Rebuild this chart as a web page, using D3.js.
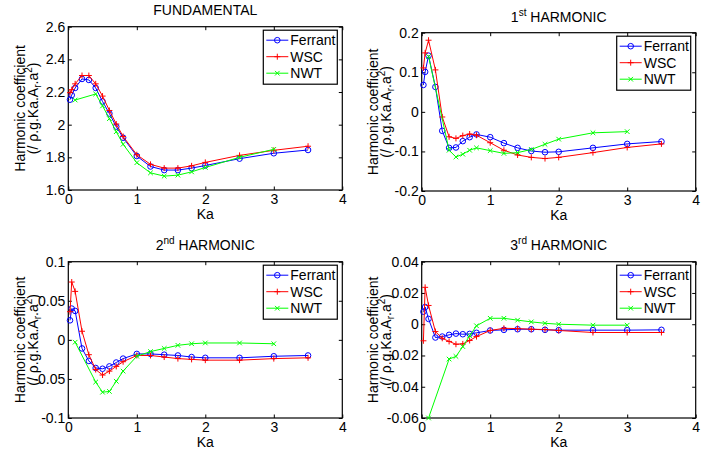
<!DOCTYPE html>
<html>
<head>
<meta charset="utf-8">
<script src="https://cdn.jsdelivr.net/npm/d3@7"></script>
<style>
body{margin:0;background:#fff;}
svg{display:block;}
text{font-family:"Liberation Sans",Arial,Helvetica,sans-serif;fill:#000;}
</style>
</head>
<body>
<svg id="chart" width="717" height="455"></svg>
<script>
// ---------- data ----------
const kaFull = [0.025,0.05,0.1,0.2,0.3,0.4,0.5,0.6,0.7,0.8,1.0,1.2,1.4,1.6,1.8,2.0,2.5,3.0,3.5];
const kaNWT  = [0.1,0.4,0.5,0.6,0.7,0.8,1.0,1.2,1.4,1.6,1.8,2.0,2.5,3.0];
const seriesNames = ["Ferrant","WSC","NWT"];
const xTicks = [0,1,2,3,4];

// Fundamental
const fundFerrant = [2.153,2.181,2.225,2.28,2.274,2.225,2.142,2.068,1.988,1.92,1.808,1.744,1.722,1.722,1.734,1.75,1.792,1.825,1.845];
const fundWSC     = [2.196,2.214,2.25,2.301,2.301,2.25,2.175,2.087,2.004,1.928,1.816,1.757,1.734,1.734,1.748,1.769,1.812,1.843,1.868];
const fundNWT     = [2.151,2.188,2.115,2.037,1.957,1.88,1.767,1.705,1.685,1.691,1.711,1.738,1.8,1.849];
const fundTicks   = [1.6,1.8,2,2.2,2.4,2.6];

// 1st harmonic
const h1Ferrant = [0.068,0.101,0.142,0.063,-0.048,-0.091,-0.09,-0.074,-0.064,-0.057,-0.064,-0.079,-0.091,-0.099,-0.102,-0.101,-0.091,-0.081,-0.075];
const h1WSC     = [0.111,0.149,0.181,0.106,-0.013,-0.063,-0.067,-0.06,-0.056,-0.059,-0.078,-0.097,-0.109,-0.115,-0.118,-0.115,-0.103,-0.09,-0.081];
const h1NWT     = [0.14,-0.097,-0.114,-0.107,-0.097,-0.091,-0.098,-0.105,-0.103,-0.095,-0.082,-0.069,-0.053,-0.05];
const h1Ticks   = [-0.2,-0.1,0,0.1,0.2];

// 2nd harmonic
const h2Ferrant = [0.025,0.04,0.037,-0.011,-0.027,-0.036,-0.037,-0.034,-0.029,-0.024,-0.018,-0.018,-0.019,-0.02,-0.022,-0.023,-0.023,-0.021,-0.02];
const h2WSC     = [0.036,0.074,0.062,0.011,-0.019,-0.038,-0.045,-0.04,-0.034,-0.028,-0.02,-0.02,-0.022,-0.024,-0.025,-0.026,-0.026,-0.024,-0.023];
const h2NWT     = [-0.003,-0.054,-0.067,-0.066,-0.053,-0.04,-0.021,-0.015,-0.011,-0.007,-0.005,-0.004,-0.004,-0.005];
const h2Ticks   = [-0.1,-0.05,0,0.05,0.1];

// 3rd harmonic
const h3Ferrant = [0.008,0.011,0.0034,-0.0085,-0.0079,-0.0068,-0.006,-0.0064,-0.0062,-0.0055,-0.004,-0.0036,-0.0032,-0.0032,-0.0036,-0.0038,-0.0038,-0.0038,-0.0036];
const h3WSC     = [-0.0106,0.0236,0.012,-0.0047,-0.009,-0.011,-0.0128,-0.0126,-0.0104,-0.0079,-0.004,-0.0026,-0.0028,-0.0032,-0.0034,-0.004,-0.0053,-0.0053,-0.0053];
const h3NWT     = [-0.06,-0.0223,-0.0206,-0.0143,-0.0074,-0.001,0.0038,0.0038,0.0026,0.0015,0.0006,0.0,-0.0006,-0.0006];
const h3Ticks   = [-0.06,-0.04,-0.02,0,0.02,0.04];

// ---------- layout ----------
const panels = [
  {title:["FUNDAMENTAL",""," "], box:[68.3,342.3,26.7,190], titleY:15, yDom:[1.6,2.6], ticks:fundTicks,
   data:[fundFerrant,fundWSC,fundNWT], ylx:[25,38]},
  {title:["1","st"," HARMONIC"], box:[421.7,695.7,32.7,191], titleY:21.7, yDom:[-0.2,0.2], ticks:h1Ticks,
   data:[h1Ferrant,h1WSC,h1NWT], ylx:[378,391]},
  {title:["2","nd"," HARMONIC"], box:[68.3,342.3,261.7,418], titleY:250, yDom:[-0.1,0.1], ticks:h2Ticks,
   data:[h2Ferrant,h2WSC,h2NWT], ylx:[25,38]},
  {title:["3","rd"," HARMONIC"], box:[421.7,695.7,261.7,418], titleY:250, yDom:[-0.06,0.04], ticks:h3Ticks,
   data:[h3Ferrant,h3WSC,h3NWT], ylx:[378,391]}
];
const colors = ["#0000ff","#ff0000","#00ff00"];
const markers = ["circle","plus","cross"];

const svg = d3.select("#chart");

function drawMarker(g, type, x, y, color){
  if(type==="circle"){
    g.append("circle").attr("cx",x).attr("cy",y).attr("r",2.8)
      .attr("fill","none").attr("stroke",color).attr("stroke-width",1);
  } else if(type==="plus"){
    const s=3;
    g.append("path").attr("d",`M${x-s},${y}H${x+s}M${x},${y-s}V${y+s}`)
      .attr("stroke",color).attr("stroke-width",1).attr("fill","none");
  } else {
    const s=2.3;
    g.append("path").attr("d",`M${x-s},${y-s}L${x+s},${y+s}M${x-s},${y+s}L${x+s},${y-s}`)
      .attr("stroke",color).attr("stroke-width",1).attr("fill","none");
  }
}

function fmt(v){
  return String(+v.toFixed(4));
}

panels.forEach(p=>{
  const [x0,x1,y0,y1] = p.box;
  const xs = d3.scaleLinear().domain([0,4]).range([x0,x1]);
  const ys = d3.scaleLinear().domain(p.yDom).range([y1,y0]);
  const g = svg.append("g");

  const tl = 3.5;
  const bottom = g.append("g").attr("transform",`translate(0,${y1})`)
    .call(d3.axisBottom(xs).tickValues(xTicks).tickSizeInner(-tl).tickSizeOuter(0).tickPadding(3).tickFormat(d3.format("d")));
  const top = g.append("g").attr("transform",`translate(0,${y0})`)
    .call(d3.axisTop(xs).tickValues(xTicks).tickSizeInner(-tl).tickSizeOuter(0).tickFormat(""));
  const left = g.append("g").attr("transform",`translate(${x0},0)`)
    .call(d3.axisLeft(ys).tickValues(p.ticks).tickSizeInner(-tl).tickSizeOuter(0).tickPadding(3).tickFormat(fmt));
  const right = g.append("g").attr("transform",`translate(${x1},0)`)
    .call(d3.axisRight(ys).tickValues(p.ticks).tickSizeInner(-tl).tickSizeOuter(0).tickFormat(""));
  [bottom,top,left,right].forEach(a=>{
    a.select(".domain").remove();
    a.selectAll("line").attr("stroke","#000").attr("stroke-width",1);
    a.selectAll("text").attr("font-size","14px").attr("font-family",'"Liberation Sans",Arial,sans-serif').attr("fill","#000");
  });
  bottom.selectAll("text").attr("dy",null).attr("y",14);

  g.append("rect").attr("x",x0).attr("y",y0).attr("width",x1-x0).attr("height",y1-y0)
    .attr("fill","none").attr("stroke","#000").attr("stroke-width",1.2);

  const xsets = [kaFull,kaFull,kaNWT];
  p.data.forEach((vals,i)=>{
    const pts = vals.map((v,j)=>[xs(xsets[i][j]),ys(v)]);
    g.append("path").attr("d",d3.line()(pts)).attr("fill","none")
      .attr("stroke",colors[i]).attr("stroke-width",1);
    pts.forEach(pt=>drawMarker(g,markers[i],pt[0],pt[1],colors[i]));
  });

  const t = g.append("text").attr("x",(x0+x1)/2).attr("y",p.titleY)
    .attr("text-anchor","middle").attr("font-size","14px");
  t.append("tspan").text(p.title[0]);
  if(p.title[1]){
    t.append("tspan").attr("font-size","10px").attr("dy",-6).text(p.title[1]);
    t.append("tspan").attr("dy",6).text(p.title[2]);
  }

  g.append("text").attr("x",(x0+x1)/2).attr("y",y1+29).attr("text-anchor","middle")
    .attr("font-size","14px").text("Ka");

  const cy = (y0+y1)/2;
  g.append("text").attr("transform",`translate(${p.ylx[0]},${cy}) rotate(-90)`)
    .attr("text-anchor","middle").attr("font-size","14px").text("Harmonic coefficient");
  const yl2 = g.append("text").attr("transform",`translate(${p.ylx[1]},${cy}) rotate(-90)`)
    .attr("text-anchor","middle").attr("font-size","14px");
  yl2.append("tspan").text("(/ \u03C1.g.Ka.A");
  yl2.append("tspan").attr("font-size","10px").attr("dy",3).text("r");
  yl2.append("tspan").attr("dy",-3).text(".a");
  yl2.append("tspan").attr("font-size","10px").attr("dy",-6).text("2");
  yl2.append("tspan").attr("dy",6).text(")");

  const lx = x1-79, ly = y0+3.5, lw = 74, lh = 54;
  const lg = g.append("g");
  lg.append("rect").attr("x",lx).attr("y",ly).attr("width",lw).attr("height",lh)
    .attr("fill","#fff").attr("stroke","#000").attr("stroke-width",1.2);
  seriesNames.forEach((nm,i)=>{
    const ry = ly + 10 + i*16.5;
    lg.append("line").attr("x1",lx+3).attr("x2",lx+25).attr("y1",ry).attr("y2",ry)
      .attr("stroke",colors[i]).attr("stroke-width",1);
    drawMarker(lg,markers[i],lx+14,ry,colors[i]);
    lg.append("text").attr("x",lx+27).attr("y",ry).attr("dy","0.35em")
      .attr("font-size","14px").text(nm);
  });
});
</script>
</body>
</html>
